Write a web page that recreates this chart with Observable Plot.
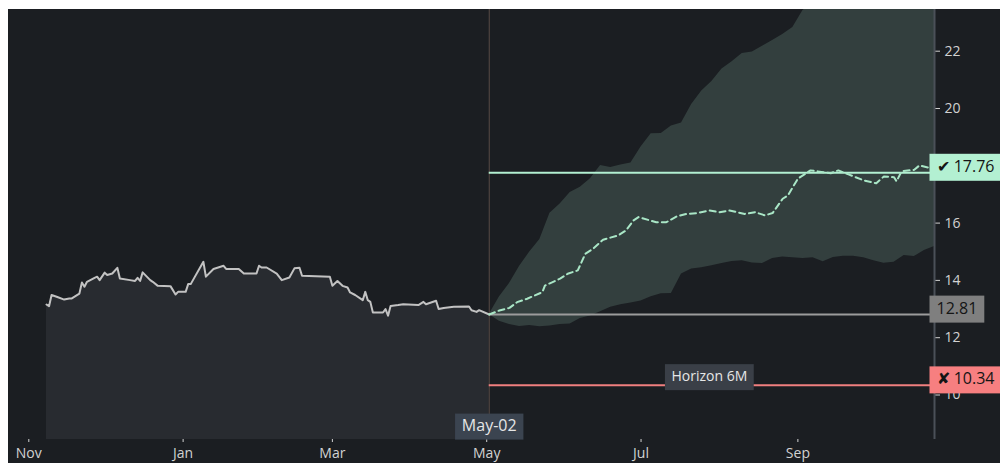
<!DOCTYPE html>
<html><head><meta charset="utf-8">
<script src="https://cdn.jsdelivr.net/npm/d3@7"></script>
<script src="https://cdn.jsdelivr.net/npm/@observablehq/plot@0.6"></script>
<style>
html,body{margin:0;padding:0;background:#fff;overflow:hidden}
body{padding:9px 0 0 8px}
#chart svg{display:block}
</style></head><body><div id="chart"></div>
<script>
// ---- data ----
const histDates = ["2021-11-08","2021-11-09","2021-11-10","2021-11-12","2021-11-15","2021-11-17","2021-11-18","2021-11-21","2021-11-22","2021-11-23","2021-11-24","2021-11-27","2021-11-28","2021-11-29","2021-12-01","2021-12-02","2021-12-04","2021-12-06","2021-12-07","2021-12-11","2021-12-13","2021-12-14","2021-12-15","2021-12-16","2021-12-19","2021-12-20","2021-12-22","2021-12-27","2021-12-29","2021-12-30","2022-01-02","2022-01-03","2022-01-04","2022-01-09","2022-01-10","2022-01-13","2022-01-17","2022-01-18","2022-01-23","2022-01-25","2022-01-30","2022-01-31","2022-02-01","2022-02-03","2022-02-07","2022-02-09","2022-02-12","2022-02-14","2022-02-16","2022-02-17","2022-02-28","2022-03-01","2022-03-03","2022-03-05","2022-03-07","2022-03-08","2022-03-10","2022-03-13","2022-03-14","2022-03-15","2022-03-16","2022-03-17","2022-03-21","2022-03-22","2022-03-23","2022-03-24","2022-03-27","2022-03-29","2022-04-04","2022-04-06","2022-04-07","2022-04-11","2022-04-12","2022-04-14","2022-04-18","2022-04-24","2022-04-25","2022-04-27","2022-04-28","2022-05-02"];
const histValues = [13.16,13.10,13.49,13.43,13.33,13.37,13.37,13.54,13.93,13.78,13.95,14.09,14.13,14.01,14.27,14.19,14.24,14.44,14.07,14.01,13.98,14.09,13.98,14.28,14.01,13.95,13.81,13.80,13.51,13.60,13.60,13.87,13.87,14.65,14.13,14.40,14.51,14.40,14.40,14.24,14.24,14.51,14.45,14.45,14.24,14.01,14.10,14.42,14.44,14.16,14.13,13.81,13.98,13.81,13.75,13.58,13.49,13.31,13.60,13.31,13.25,12.88,12.88,13.00,12.77,13.11,13.14,13.17,13.14,13.25,13.17,13.29,13.00,13.04,13.08,13.09,12.96,12.90,12.96,12.81];

const medDates = ["2022-05-02","2022-05-06","2022-05-10","2022-05-13","2022-05-17","2022-05-23","2022-05-24","2022-05-30","2022-06-02","2022-06-06","2022-06-09","2022-06-12","2022-06-16","2022-06-22","2022-06-25","2022-06-28","2022-06-30","2022-07-07","2022-07-11","2022-07-15","2022-07-19","2022-07-23","2022-07-28","2022-08-01","2022-08-05","2022-08-11","2022-08-15","2022-08-19","2022-08-22","2022-08-26","2022-08-28","2022-09-01","2022-09-06","2022-09-14","2022-09-17","2022-09-21","2022-09-27","2022-10-02","2022-10-05","2022-10-09","2022-10-10","2022-10-12","2022-10-17","2022-10-19","2022-10-23"];
const medValues = [12.81,12.95,13.04,13.24,13.36,13.59,13.82,14.06,14.23,14.35,14.93,15.10,15.42,15.57,15.74,16.09,16.21,16.03,16.03,16.23,16.32,16.35,16.44,16.38,16.44,16.32,16.38,16.27,16.35,16.85,16.96,17.55,17.84,17.74,17.84,17.70,17.49,17.39,17.63,17.60,17.46,17.81,17.86,18.01,17.93];

const bandDates = ["2022-05-02","2022-05-06","2022-05-10","2022-05-14","2022-05-18","2022-05-22","2022-05-26","2022-05-30","2022-06-03","2022-06-07","2022-06-11","2022-06-15","2022-06-19","2022-06-23","2022-06-27","2022-07-01","2022-07-05","2022-07-09","2022-07-13","2022-07-17","2022-07-21","2022-07-25","2022-07-29","2022-08-02","2022-08-06","2022-08-10","2022-08-14","2022-08-18","2022-08-22","2022-08-26","2022-08-30","2022-09-03","2022-09-07","2022-09-11","2022-09-15","2022-09-19","2022-09-23","2022-09-27","2022-10-01","2022-10-05","2022-10-09","2022-10-13","2022-10-17","2022-10-21","2022-10-25"];
const bandHigh = [12.81,13.42,13.89,14.49,14.99,15.43,16.34,16.67,17.07,17.25,17.55,18.01,17.94,18.03,18.10,18.66,19.12,19.13,19.39,19.49,20.14,20.61,20.94,21.38,21.63,21.92,21.97,22.17,22.37,22.58,22.83,23.42,23.7,23.9,24.1,24.3,24.4,24.6,24.7,24.8,24.9,25.0,25.1,25.2,25.3];
const bandLow = [12.81,12.57,12.46,12.39,12.43,12.38,12.41,12.46,12.48,12.67,12.76,12.91,13.06,13.15,13.21,13.28,13.43,13.53,13.54,14.22,14.40,14.44,14.51,14.59,14.66,14.69,14.61,14.59,14.76,14.82,14.79,14.76,14.79,14.65,14.80,14.84,14.84,14.79,14.69,14.60,14.63,14.87,14.83,15.04,15.18];

const refValues = [17.76, 12.81, 10.34];
const refLabels = ["✔ 17.76", "12.81", "✘ 10.34"];
const refLineColors = ["#b3f0d2", "#9c9c9c", "#f07f7f"];
const refBoxColors = ["#b3f0d2", "#7f7f7f", "#f77f80"];

const startDate = "2022-05-02";
const startLabel = "May-02";
const horizonDate = "2022-07-28";
const horizonValue = 10.34;
const horizonText = "Horizon 6M";

const xDomain = ["2021-11-01", "2022-10-25"];
const yDomain = [8.447, 23.455];
const xTicks = ["2021-11-01","2022-01-01","2022-03-01","2022-05-01","2022-07-01","2022-09-01"];
const yTicks = [10, 12, 14, 16, 18, 20, 22];

// ---- tables ----
const hist = histDates.map((d, i) => ({date: new Date(d), value: histValues[i]}));
const med = medDates.map((d, i) => ({date: new Date(d), value: medValues[i]}));
const band = bandDates.map((d, i) => ({date: new Date(d), low: bandLow[i], high: bandHigh[i]}));
const startD = new Date(startDate);
const endD = new Date(xDomain[1]);

const marks = [
  Plot.areaY(hist, {x: "date", y1: () => yDomain[0], y2: "value", fill: "#282b30", clip: true}),
  Plot.areaY(band, {x: "date", y1: "low", y2: "high", fill: "#333f3e", clip: true}),
  Plot.ruleX([startD], {x: d => d, stroke: "#574b45", strokeWidth: 1}),
  Plot.ruleX([endD], {x: d => d, stroke: "#4b5058", strokeWidth: 2}),
  Plot.lineY(hist, {x: "date", y: "value", stroke: "#c2c2c2", strokeWidth: 2, clip: true}),
  ...refValues.map((v, i) => Plot.ruleY([v], {y: d => d, x1: () => startD, x2: () => endD, stroke: refLineColors[i], strokeWidth: 2})),
  Plot.lineY(med, {x: "date", y: "value", stroke: "#a9e6c6", strokeWidth: 2, strokeDasharray: "6,4", clip: true}),
  ...refValues.map((v, i) => Plot.text([refLabels[i]], {x: () => endD, y: () => v, text: d => d, textAnchor: "start", dx: 2, dy: -6, fill: "#151515", fontSize: 16})),
  Plot.text([horizonText], {x: () => new Date(horizonDate), y: () => horizonValue, text: d => d, dy: -9, fill: "#e6e6e6", fontSize: 14}),
  Plot.text([startLabel], {x: () => startD, frameAnchor: "bottom", text: d => d, dy: -9, fill: "#e6e6e6", fontSize: 16})
];

const chart = Plot.plot({
  width: 992, height: 454,
  marginLeft: 20.3, marginRight: 66, marginTop: 0, marginBottom: 24,
  style: {background: "#1b1e22", color: "#d2d2d2", fontFamily: "'Open Sans', sans-serif", fontSize: "14px"},
  x: {type: "utc", domain: xDomain.map(d => new Date(d)), ticks: xTicks.map(d => new Date(d)), tickFormat: d3.utcFormat("%b"), tickSize: 3, tickPadding: 6, label: null},
  y: {domain: yDomain, ticks: yTicks, axis: "right", tickSize: 5, tickPadding: 5, label: null},
  marks
});
document.getElementById("chart").appendChild(chart);

// ---- label boxes (matched by label text) ----
const ns = "http://www.w3.org/2000/svg";
const boxes = new Map([
  [refLabels[0], [refBoxColors[0], 7, 27, 1.5]],
  [refLabels[1], [refBoxColors[1], 7, 27, 1.5]],
  [refLabels[2], [refBoxColors[2], 7, 27, 1.5]],
  [horizonText, ["#3a3f47", 6.5, 26, 1.9]],
  [startLabel, ["#3b4450", 6.8, 26, 2.1]]
]);
const found = [];
chart.querySelectorAll("text").forEach(t => {
  const key = t.textContent.trim();
  if (boxes.has(key)) found.push([t, boxes.get(key)]);
});
for (const [t, [fill, px, h, off]] of found) {
  const b = t.getBBox();
  const r = document.createElementNS(ns, "rect");
  const cy = b.y + b.height / 2 + off;
  r.setAttribute("x", b.x - px);
  r.setAttribute("width", b.width + 2 * px);
  r.setAttribute("y", cy - h / 2);
  r.setAttribute("height", h);
  r.setAttribute("fill", fill);
  const tr = t.getAttribute("transform");
  if (tr) r.setAttribute("transform", tr);
  const g = document.createElementNS(ns, "g");
  const parent = t.parentNode;
  const ptr = parent.getAttribute("transform");
  if (ptr) g.setAttribute("transform", ptr);
  // copy text styling from parent group
  ["font-size", "fill", "text-anchor", "font-family"].forEach(a => { if (parent.getAttribute(a)) g.setAttribute(a, parent.getAttribute(a)); });
  g.appendChild(r);
  g.appendChild(t);
  chart.appendChild(g);
}
</script>
</body></html>
